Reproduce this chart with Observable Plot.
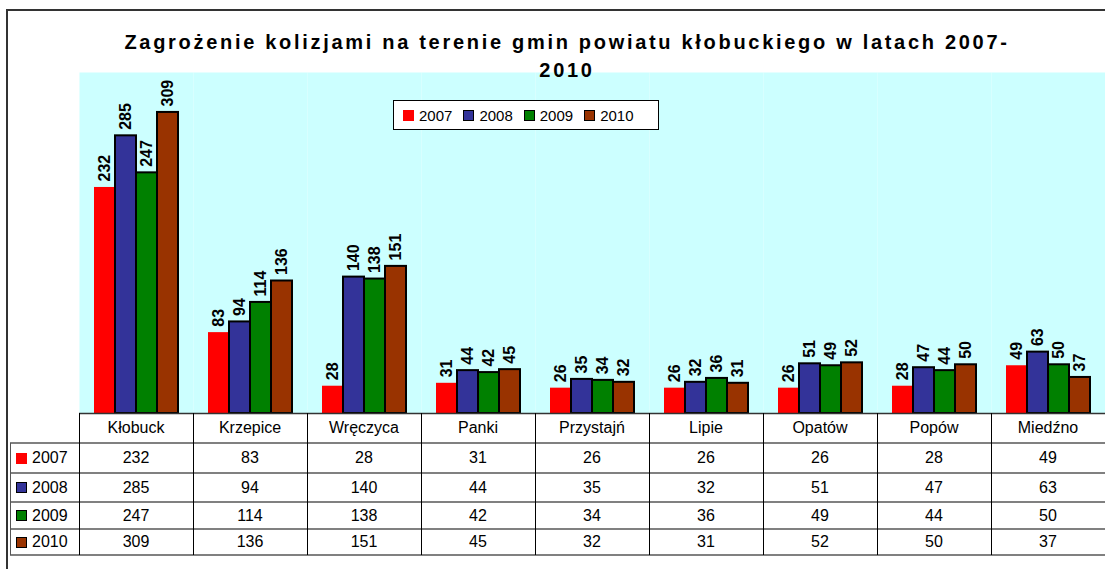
<!DOCTYPE html>
<html>
<head>
<meta charset="utf-8">
<script src="https://cdn.jsdelivr.net/npm/d3@7"></script>
<script src="https://cdn.jsdelivr.net/npm/@observablehq/plot@0.6"></script>
<style>
  body { margin: 0; background: #fff; font-family: "Liberation Sans", Arial, sans-serif; }
  #wrap { position: relative; width: 1105px; height: 569px; overflow: hidden; background: #fff; }
  #outer { position: absolute; left: 6px; top: 9px; width: 1300px; height: 700px; border-left: 2px solid #333; border-top: 2px solid #333; }
  #chart { position: absolute; left: 0; top: 0; }
  #title { position: absolute; left: 0; width: 1134px; top: 28px; text-align: center; font-weight: bold; font-size: 20px; letter-spacing: 2.7px; line-height: 28px; color: #000; }
  #legend { position: absolute; left: 393px; top: 100px; width: 255px; height: 28px; border: 1px solid #000; background: #fff; display: flex; align-items: center; padding-left: 9px; box-sizing: content-box; }
  .item { display: flex; align-items: center; margin-right: 11px; font-size: 15px; }
  .sw { width: 9px; height: 9px; border: 1px solid #000; margin-right: 5px; }
  .sw.first { width: 11px; height: 11px; border: none; }
  .hl { position: absolute; height: 2px; background: #808080; }
  .vl { position: absolute; width: 1px; background: #000; }
  .cell { position: absolute; text-align: center; font-size: 16px; display: flex; align-items: center; justify-content: center; }
  .rowlab { position: absolute; display: flex; align-items: center; font-size: 16px; }
</style>
</head>
<body>
<div id="wrap">
  <div id="outer"></div>
  <div id="chart"></div>
  <div id="title">Zagrożenie kolizjami na terenie gmin powiatu kłobuckiego w latach 2007-<br>2010</div>
  <div id="legend"></div>
</div>
<script>
const gminy = ["Kłobuck", "Krzepice", "Wręczyca", "Panki", "Przystajń", "Lipie", "Opatów", "Popów", "Miedźno"];
const lata = ["2007", "2008", "2009", "2010"];
const v2007 = [232, 83, 28, 31, 26, 26, 26, 28, 49];
const v2008 = [285, 94, 140, 44, 35, 32, 51, 47, 63];
const v2009 = [247, 114, 138, 42, 34, 36, 49, 44, 50];
const v2010 = [309, 136, 151, 45, 32, 31, 52, 50, 37];
const kolory = ["#FF0000", "#333399", "#008000", "#993300"];

const serie = [v2007, v2008, v2009, v2010];
const dane = [];
lata.forEach((rok, j) => gminy.forEach((g, i) => dane.push({gmina: g, rok, wartosc: serie[j][i]})));

const font = "'Liberation Sans', Arial, sans-serif";

const chart = Plot.plot({
  width: 1105,
  height: 415,
  marginLeft: 78,
  marginRight: 0,
  marginTop: 72,
  marginBottom: 2,
  style: { background: "transparent", fontFamily: font, overflow: "visible" },
  fx: { axis: null, domain: gminy, padding: 0 },
  x: { axis: null, domain: lata, paddingInner: 0, paddingOuter: 0.68 },
  y: { axis: null, domain: [0, 350] },
  color: { domain: lata, range: kolory },
  marks: [
    Plot.frame({ fill: "#CCFFFF", stroke: "none" }),
    Plot.barY(dane.filter(d => d.rok === "2007"), { fx: "gmina", x: "rok", y: "wartosc", fill: "rok" }),
    Plot.barY(dane.filter(d => d.rok !== "2007"), { fx: "gmina", x: "rok", y: "wartosc", fill: "rok", stroke: "#000", strokeWidth: 2 }),
    Plot.text(dane, { fx: "gmina", x: "rok", y: "wartosc", text: d => String(d.wartosc), rotate: -90, textAnchor: "start", dy: -6, fontWeight: "bold", fontSize: 16, fill: "#000" }),
    Plot.ruleY([0], { stroke: "#333", strokeWidth: 1.5 })
  ]
});
document.getElementById("chart").appendChild(chart);

// Legend
const leg = d3.select("#legend");
lata.forEach((rok, j) => {
  const it = leg.append("div").attr("class", "item");
  it.append("div").attr("class", "sw" + (j === 0 ? " first" : "")).style("background", kolory[j]);
  it.append("span").text(rok);
});

// Data table aligned to the fx band scale
const fxS = chart.scale("fx");
const r0 = fxS.range[0], r1 = fxS.range[1];
const step = fxS.step || (r1 - r0) / gminy.length;
const colLeft = i => (fxS.apply ? fxS.apply(gminy[i]) : r0 + i * step);
const bw = fxS.bandwidth || step;
const wrap = d3.select("#wrap");
const headTop = 413, headH = 30;
const rowTops = [443, 473, 502, 529];
const rowBottom = 555;
const tableLeft = 10;

gminy.forEach((g, i) => {
  wrap.append("div").attr("class", "cell")
    .style("left", colLeft(i) + "px").style("top", headTop + "px")
    .style("width", bw + "px").style("height", headH + "px").text(g);
});
lata.forEach((rok, j) => {
  const top = rowTops[j];
  const h = (j < 3 ? rowTops[j + 1] : rowBottom) - top;
  const rl = wrap.append("div").attr("class", "rowlab")
    .style("left", "16px").style("top", top + "px").style("height", h + "px");
  rl.append("div").attr("class", "sw" + (j === 0 ? " first" : "")).style("background", kolory[j]);
  rl.append("span").text(rok);
  serie[j].forEach((v, i) => {
    wrap.append("div").attr("class", "cell")
      .style("left", colLeft(i) + "px").style("top", top + "px")
      .style("width", bw + "px").style("height", h + "px").text(v);
  });
});
// horizontal lines
[...rowTops, rowBottom].forEach(y => {
  wrap.append("div").attr("class", "hl").style("left", tableLeft + "px").style("top", (y - 1) + "px").style("width", (1105 - tableLeft) + "px");
});
// vertical lines
wrap.append("div").attr("class", "vl").style("left", tableLeft + "px").style("top", rowTops[0] + "px").style("height", (rowBottom - rowTops[0]) + "px").style("background", "#555");
gminy.forEach((g, i) => {
  wrap.append("div").attr("class", "vl").style("left", Math.round(colLeft(i)) + "px").style("top", headTop + "px").style("height", (rowBottom - headTop) + "px");
});
</script>
</body>
</html>
